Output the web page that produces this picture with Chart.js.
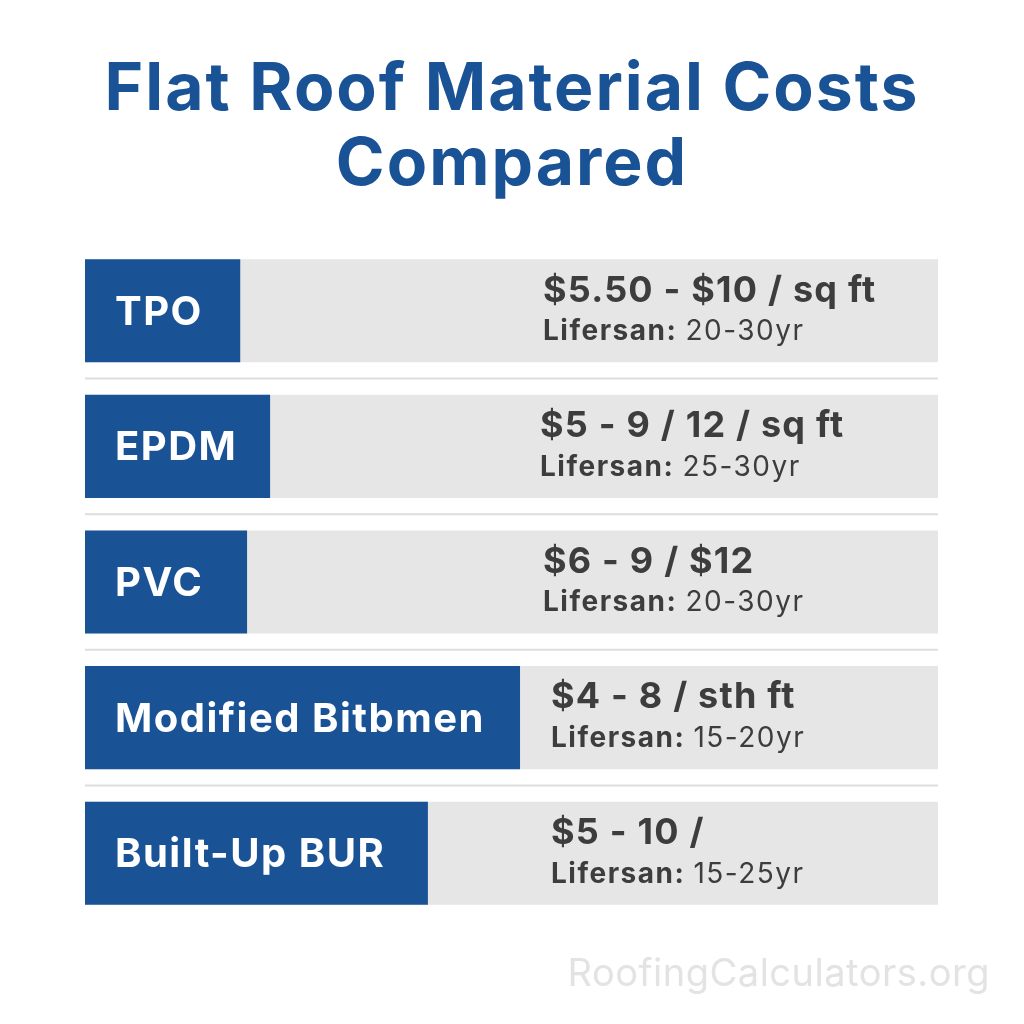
<!DOCTYPE html>
<html><head><meta charset="utf-8">
<script src="https://cdn.jsdelivr.net/npm/chart.js@4"></script>
<style>html,body{margin:0;padding:0;background:#fff}canvas{display:block}</style>
</head><body>
<canvas id="c" width="1024" height="1024"></canvas>
<script>
const categories = ["TPO","EPDM","PVC","Modified Bitbmen","Built-Up BUR"];
const labelShare = [0.182,0.217,0.190,0.510,0.402];
const fullTrack = [1,1,1,1,1];
const priceLabels = ["$5.50 - $10 / sq ft","$5 - 9 / 12 / sq ft","$6 - 9 / $12","$4 - 8 / sth ft","$5 - 10 /"];
const lifespans = ["20-30yr","25-30yr","20-30yr","15-20yr","15-25yr"];
const title = ["Flat Roof Material Costs","Compared"];
const watermark = "RoofingCalculators.org";

const BLUE = "#1a5296", DARK = "#3d3d3d";
const priceX = [543,540,543,551,551];
const deco = {
  id:'deco',
  beforeDraw(ch){const c=ch.ctx;c.save();c.fillStyle='#fff';c.fillRect(0,0,ch.width,ch.height);
    c.fillStyle=BLUE;c.font='700 66px Inter';c.letterSpacing='2px';c.textAlign='center';c.textBaseline='middle';
    c.fillText(title[0],512,90);c.fillText(title[1],512,165);
    c.letterSpacing='0px';
    const y=ch.scales.y,a=ch.chartArea;c.strokeStyle='#dedede';c.lineWidth=2;
    for(let i=0;i<categories.length-1;i++){const m=(y.getPixelForValue(i)+y.getPixelForValue(i+1))/2;
      c.beginPath();c.moveTo(a.left,m);c.lineTo(a.right,m);c.stroke();}
    c.restore();},
  afterDatasetsDraw(ch){const c=ch.ctx,y=ch.scales.y,x=ch.scales.x;c.save();c.textBaseline='middle';c.textAlign='left';
    categories.forEach((cat,i)=>{const cy=y.getPixelForValue(i);
      c.fillStyle='#fff';c.font='700 40px Inter';c.letterSpacing='1.5px';c.fillText(cat,x.getPixelForValue(0)+30,cy+2);
      const px=priceX[i];
      c.fillStyle=DARK;c.font='700 36px Inter';c.letterSpacing='1.2px';c.fillText(priceLabels[i],px,cy-20);
      c.letterSpacing='1.5px';
      c.font='700 28px Inter';const lab='Lifersan: ';c.fillText(lab,px,cy+21);
      const w=c.measureText(lab).width;c.font='400 28px Inter';c.fillText(lifespans[i],px+w,cy+21);});
    c.fillStyle='#e3e3e3';c.textAlign='right';c.font='400 38px Inter';c.letterSpacing='0.5px';c.fillText(watermark,990,975);
    c.restore();}
};
new Chart(document.getElementById('c'),{type:'bar',
  data:{labels:categories,datasets:[
    {data:labelShare,backgroundColor:BLUE,order:0,grouped:false,barPercentage:1,categoryPercentage:0.76},
    {data:fullTrack,backgroundColor:'#e6e6e6',order:1,grouped:false,barPercentage:1,categoryPercentage:0.76}]},
  options:{indexAxis:'y',responsive:false,animation:false,devicePixelRatio:1,
    layout:{padding:{left:85,right:86,top:243,bottom:103}},
    plugins:{legend:{display:false},tooltip:{enabled:false}},
    scales:{x:{display:false,min:0,max:1},y:{display:false}}},
  plugins:[deco]});
</script></body></html>
